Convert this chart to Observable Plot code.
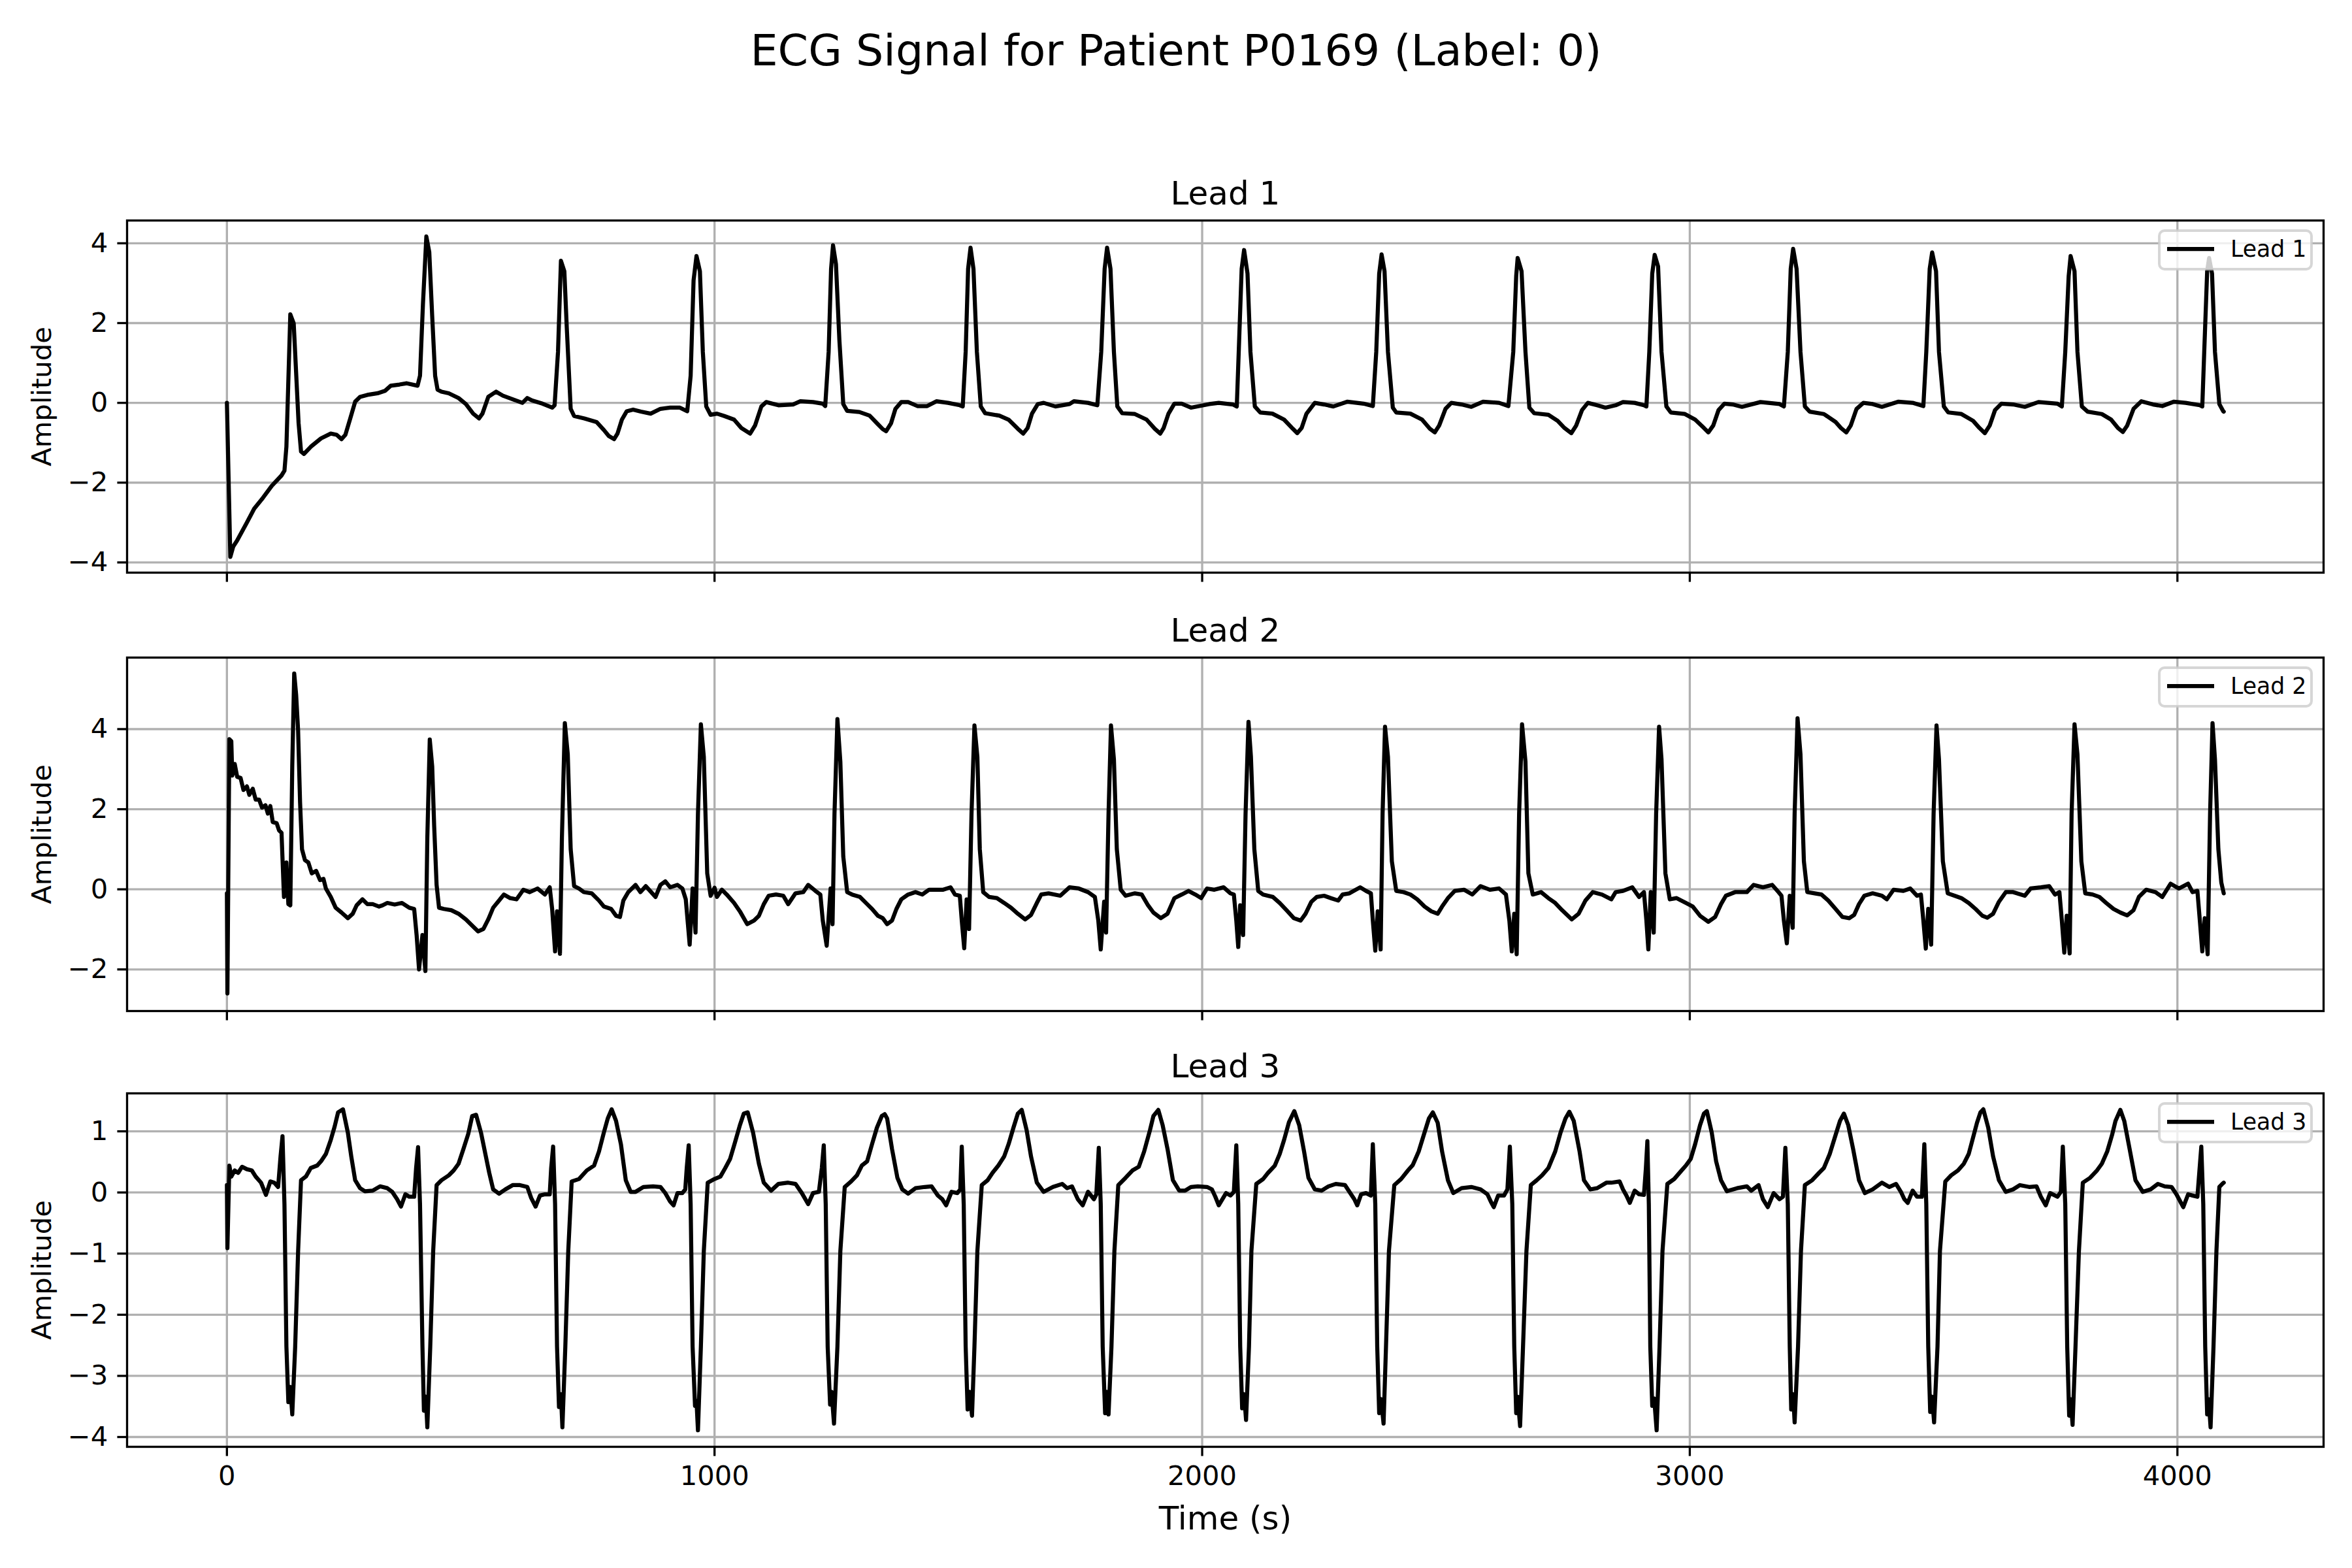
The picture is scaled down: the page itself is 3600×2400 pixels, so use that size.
<!DOCTYPE html>
<html><head><meta charset="utf-8">
<script src="https://cdn.jsdelivr.net/npm/d3@7"></script>
<script src="https://cdn.jsdelivr.net/npm/@observablehq/plot@0.6"></script>
<style>
html,body{margin:0;padding:0;background:#fff;}
#fig{position:relative;width:3600px;height:2400px;background:#fff;overflow:hidden;font-family:"DejaVu Sans",sans-serif;}
#fig svg{position:absolute;left:0;}
</style></head>
<body><div id="fig"></div>
<script>
// ---------- data ----------
const figTitle = "ECG Signal for Patient P0169 (Label: 0)";
const leadNames = ["Lead 1", "Lead 2", "Lead 3"];
const xLabel = "Time (s)";
const yLabel = "Amplitude";
const xTicks = [0, 1000, 2000, 3000, 4000];
const lead1Ticks = [-4, -2, 0, 2, 4];
const lead2Ticks = [-2, 0, 2, 4];
const lead3Ticks = [-4, -3, -2, -1, 0, 1];
const xDomain = [-204.75, 4299.75];
const lead1Domain = [-4.256, 4.571];
const lead2Domain = [-3.039, 5.786];
const lead3Domain = [-4.160, 1.621];

const lead1 = [[0,0],[7,-3.86],[13,-3.60],[21,-3.45],[41,-3.0],[56,-2.65],[72,-2.41],[92,-2.08],[112,-1.82],[118,-1.70],[122,-1.10],[130,2.22],[137,1.99],[147,-0.51],[152,-1.22],[158,-1.28],[172,-1.10],[193,-0.89],[213,-0.77],[225,-0.80],[235,-0.91],[243,-0.80],[253,-0.39],[263,0.03],[273,0.15],[288,0.20],[309,0.24],[324,0.30],[336,0.43],[354,0.46],[369,0.49],[391,0.43],[396,0.68],[402,2.47],[409,4.17],[415,3.78],[421,2.17],[427,0.68],[432,0.33],[440,0.28],[455,0.24],[475,0.12],[490,-0.03],[505,-0.27],[517,-0.39],[524,-0.27],[536,0.15],[552,0.28],[566,0.18],[586,0.09],[606,0],[616,0.12],[626,0.06],[647,-0.02],[667,-0.12],[672,-0.06],[679,1.28],[685,3.56],[692,3.30],[697,1.88],[705,-0.15],[712,-0.33],[733,-0.39],[758,-0.48],[773,-0.68],[783,-0.83],[794,-0.91],[801,-0.77],[810,-0.42],[820,-0.21],[833,-0.17],[849,-0.22],[869,-0.27],[889,-0.15],[909,-0.12],[929,-0.12],[944,-0.21],[951,0.68],[957,3.07],[963,3.68],[970,3.30],[976,1.28],[983,-0.09],[992,-0.30],[1005,-0.27],[1020,-0.33],[1040,-0.42],[1055,-0.63],[1073,-0.77],[1083,-0.57],[1096,-0.09],[1106,0.02],[1131,-0.06],[1161,-0.04],[1176,0.04],[1202,0.02],[1222,-0.02],[1227,-0.08],[1234,1.28],[1239,3.36],[1243,3.95],[1249,3.48],[1256,1.58],[1264,-0.03],[1272,-0.20],[1297,-0.23],[1318,-0.32],[1333,-0.51],[1345,-0.66],[1352,-0.71],[1362,-0.51],[1371,-0.15],[1383,0.02],[1397,0.02],[1416,-0.08],[1436,-0.08],[1455,0.04],[1479,0],[1503,-0.06],[1509,-0.09],[1515,1.28],[1520,3.36],[1525,3.89],[1531,3.36],[1538,1.28],[1546,-0.09],[1555,-0.26],[1584,-0.32],[1603,-0.42],[1622,-0.65],[1633,-0.77],[1642,-0.63],[1651,-0.27],[1663,-0.03],[1675,0],[1699,-0.09],[1728,-0.03],[1737,0.04],[1766,0],[1785,-0.06],[1793,1.28],[1800,3.36],[1805,3.89],[1812,3.36],[1819,1.28],[1826,-0.09],[1836,-0.26],[1862,-0.28],[1886,-0.42],[1903,-0.65],[1914,-0.77],[1921,-0.63],[1931,-0.27],[1943,-0.02],[1958,-0.02],[1977,-0.12],[2015,-0.03],[2034,0],[2063,-0.04],[2071,-0.09],[2075,1.28],[2081,3.36],[2086,3.83],[2093,3.24],[2099,1.28],[2108,-0.09],[2119,-0.24],[2144,-0.27],[2168,-0.42],[2186,-0.65],[2195,-0.76],[2204,-0.63],[2214,-0.27],[2231,0],[2250,-0.04],[2269,-0.09],[2298,0.03],[2331,-0.02],[2350,-0.08],[2357,1.28],[2363,3.24],[2368,3.72],[2374,3.30],[2381,1.28],[2391,-0.12],[2398,-0.24],[2427,-0.27],[2451,-0.42],[2467,-0.65],[2477,-0.74],[2486,-0.57],[2499,-0.15],[2511,0],[2532,-0.04],[2552,-0.10],[2576,0.03],[2609,0],[2628,-0.08],[2638,1.28],[2644,3.18],[2647,3.63],[2655,3.30],[2663,1.28],[2671,-0.12],[2681,-0.26],[2710,-0.30],[2729,-0.45],[2743,-0.63],[2757,-0.76],[2767,-0.57],[2779,-0.18],[2791,0],[2810,-0.06],[2827,-0.12],[2848,-0.06],[2863,0.02],[2887,0],[2906,-0.06],[2911,-0.09],[2917,1.28],[2923,3.24],[2928,3.71],[2935,3.42],[2942,1.28],[2952,-0.09],[2961,-0.24],[2990,-0.28],[3011,-0.42],[3029,-0.63],[3038,-0.74],[3048,-0.57],[3059,-0.18],[3071,-0.02],[3088,-0.04],[3107,-0.10],[3145,0.02],[3184,-0.03],[3193,-0.09],[3201,1.28],[3207,3.36],[3212,3.86],[3219,3.36],[3227,1.28],[3236,-0.09],[3246,-0.22],[3275,-0.28],[3299,-0.48],[3310,-0.63],[3321,-0.74],[3330,-0.57],[3342,-0.15],[3356,0],[3375,-0.03],[3394,-0.10],[3428,0.03],[3457,0],[3479,-0.08],[3485,1.28],[3492,3.36],[3497,3.77],[3505,3.30],[3511,1.28],[3521,-0.09],[3530,-0.24],[3557,-0.28],[3581,-0.45],[3594,-0.63],[3605,-0.76],[3615,-0.57],[3626,-0.18],[3639,-0.02],[3663,-0.04],[3687,-0.10],[3715,0.02],[3754,-0.02],[3763,-0.09],[3770,1.28],[3777,3.18],[3781,3.68],[3789,3.30],[3795,1.28],[3804,-0.09],[3816,-0.22],[3845,-0.28],[3864,-0.42],[3878,-0.63],[3888,-0.73],[3897,-0.57],[3910,-0.15],[3926,0.04],[3950,-0.04],[3969,-0.08],[3993,0.03],[4017,0],[4046,-0.06],[4051,-0.09],[4055,1.28],[4061,3.30],[4065,3.63],[4071,3.24],[4077,1.28],[4086,-0.03],[4094,-0.21],[4095,-0.22]];

const lead2 = [[0,-0.10],[1,-2.60],[5,3.75],[9,3.70],[11,2.84],[16,3.13],[21,2.81],[28,2.78],[34,2.48],[41,2.57],[46,2.36],[53,2.51],[59,2.24],[66,2.24],[72,2.04],[79,2.10],[84,1.89],[89,2.08],[94,1.68],[102,1.65],[107,1.47],[112,1.41],[117,-0.19],[122,0.67],[126,-0.37],[130,-0.40],[134,3.07],[138,5.39],[142,4.85],[146,3.96],[150,2.18],[154,1.00],[160,0.73],[167,0.67],[174,0.40],[183,0.46],[191,0.23],[198,0.26],[203,0.02],[213,-0.19],[223,-0.46],[235,-0.58],[248,-0.72],[258,-0.61],[266,-0.40],[278,-0.25],[288,-0.37],[299,-0.37],[312,-0.43],[319,-0.40],[329,-0.34],[344,-0.38],[359,-0.34],[374,-0.46],[384,-0.49],[389,-1.14],[394,-2.00],[401,-1.14],[407,-2.04],[411,1.29],[416,3.74],[421,3.07],[425,1.59],[430,0.11],[435,-0.46],[445,-0.49],[460,-0.52],[475,-0.61],[490,-0.75],[505,-0.93],[515,-1.05],[526,-0.99],[536,-0.75],[546,-0.46],[556,-0.31],[568,-0.13],[581,-0.22],[594,-0.25],[608,-0.01],[621,-0.07],[637,0.02],[652,-0.13],[662,0.05],[667,-0.49],[673,-1.55],[677,-0.55],[683,-1.61],[687,1.29],[693,4.15],[699,3.37],[705,1.00],[712,0.08],[722,0.02],[732,-0.07],[748,-0.10],[763,-0.28],[773,-0.43],[788,-0.49],[798,-0.66],[806,-0.69],[813,-0.28],[823,-0.07],[838,0.11],[848,-0.07],[859,0.08],[879,-0.19],[889,0.11],[899,0.20],[909,0.05],[924,0.11],[934,0.02],[941,-0.25],[949,-1.38],[955,0.02],[961,-1.08],[966,1.89],[972,4.12],[978,3.31],[985,0.40],[992,-0.16],[1000,0.04],[1005,-0.19],[1015,-0.01],[1025,-0.13],[1040,-0.34],[1052,-0.55],[1067,-0.87],[1081,-0.78],[1091,-0.66],[1101,-0.37],[1111,-0.16],[1126,-0.13],[1141,-0.16],[1151,-0.37],[1166,-0.10],[1182,-0.07],[1192,0.11],[1207,-0.04],[1217,-0.13],[1222,-0.78],[1230,-1.41],[1238,0.02],[1242,-0.87],[1246,1.89],[1252,4.25],[1258,3.19],[1264,0.82],[1272,-0.07],[1282,-0.13],[1298,-0.19],[1313,-0.37],[1323,-0.49],[1335,-0.66],[1345,-0.72],[1354,-0.87],[1364,-0.78],[1373,-0.49],[1383,-0.25],[1397,-0.13],[1412,-0.07],[1426,-0.13],[1440,-0.01],[1455,-0.01],[1469,-0.01],[1484,0.05],[1493,-0.13],[1503,-0.16],[1507,-0.78],[1512,-1.47],[1517,-0.25],[1522,-0.99],[1527,1.89],[1533,4.09],[1539,3.31],[1544,1.00],[1551,-0.07],[1563,-0.19],[1579,-0.22],[1594,-0.34],[1608,-0.46],[1622,-0.61],[1637,-0.75],[1649,-0.64],[1661,-0.34],[1670,-0.13],[1685,-0.10],[1709,-0.16],[1728,0.05],[1747,0.02],[1766,-0.07],[1780,-0.19],[1787,-0.78],[1792,-1.50],[1799,-0.31],[1803,-1.08],[1808,1.89],[1813,4.09],[1819,3.25],[1825,1.00],[1833,-0.01],[1843,-0.16],[1862,-0.10],[1876,-0.13],[1889,-0.40],[1900,-0.58],[1915,-0.72],[1929,-0.61],[1943,-0.22],[1958,-0.13],[1972,-0.04],[1986,-0.13],[1998,-0.22],[2010,0.02],[2025,-0.01],[2044,0.05],[2058,-0.10],[2065,-0.13],[2070,-0.78],[2074,-1.44],[2078,-0.40],[2084,-1.14],[2089,1.89],[2095,4.18],[2100,3.31],[2107,1.00],[2115,-0.04],[2125,-0.13],[2145,-0.19],[2159,-0.34],[2173,-0.52],[2188,-0.72],[2202,-0.78],[2212,-0.61],[2224,-0.31],[2235,-0.19],[2250,-0.16],[2264,-0.22],[2279,-0.28],[2288,-0.13],[2302,-0.10],[2324,0.05],[2336,-0.04],[2346,-0.10],[2350,-0.78],[2355,-1.53],[2360,-0.55],[2366,-1.50],[2370,1.89],[2375,4.06],[2381,3.31],[2389,0.70],[2398,-0.04],[2413,-0.07],[2427,-0.13],[2441,-0.25],[2456,-0.43],[2470,-0.55],[2483,-0.61],[2492,-0.43],[2504,-0.22],[2518,-0.04],[2537,-0.01],[2554,-0.13],[2571,0.08],[2590,-0.01],[2609,0.02],[2623,-0.13],[2630,-0.78],[2635,-1.55],[2640,-0.61],[2645,-1.62],[2650,1.89],[2656,4.12],[2663,3.19],[2669,0.40],[2678,-0.13],[2695,-0.07],[2710,-0.22],[2724,-0.34],[2738,-0.52],[2758,-0.75],[2772,-0.61],[2786,-0.28],[2801,-0.07],[2820,-0.13],[2839,-0.25],[2848,-0.07],[2863,-0.04],[2882,0.05],[2896,-0.19],[2906,-0.07],[2911,-0.78],[2915,-1.50],[2920,-0.07],[2926,-1.08],[2931,1.89],[2937,4.06],[2942,3.25],[2950,0.40],[2959,-0.25],[2973,-0.22],[2992,-0.34],[3006,-0.43],[3021,-0.66],[3038,-0.81],[3052,-0.69],[3064,-0.37],[3074,-0.16],[3093,-0.07],[3117,-0.07],[3131,0.11],[3150,0.05],[3169,0.11],[3182,-0.07],[3188,-0.16],[3193,-0.78],[3199,-1.35],[3205,-0.16],[3211,-0.96],[3215,1.89],[3221,4.27],[3227,3.37],[3234,0.70],[3241,-0.07],[3256,-0.10],[3270,-0.13],[3284,-0.28],[3299,-0.49],[3313,-0.69],[3327,-0.72],[3337,-0.64],[3347,-0.37],[3358,-0.16],[3375,-0.10],[3394,-0.16],[3404,-0.25],[3418,-0.01],[3438,-0.04],[3452,0.02],[3466,-0.16],[3474,-0.13],[3479,-0.78],[3484,-1.48],[3489,-0.49],[3495,-1.38],[3500,1.89],[3506,4.09],[3511,3.25],[3519,0.70],[3529,-0.10],[3543,-0.16],[3557,-0.22],[3572,-0.34],[3586,-0.49],[3600,-0.66],[3610,-0.71],[3622,-0.61],[3634,-0.31],[3648,-0.07],[3663,-0.07],[3687,-0.16],[3699,0.02],[3720,0.05],[3737,0.08],[3749,-0.13],[3758,-0.07],[3763,-0.78],[3768,-1.58],[3773,-0.66],[3779,-1.60],[3783,1.89],[3789,4.12],[3795,3.37],[3803,0.70],[3811,-0.10],[3826,-0.13],[3840,-0.19],[3854,-0.34],[3869,-0.49],[3883,-0.58],[3897,-0.65],[3910,-0.52],[3921,-0.19],[3936,-0.01],[3955,-0.07],[3969,-0.19],[3986,0.14],[4003,0.02],[4022,0.14],[4031,-0.07],[4041,-0.04],[4046,-0.78],[4051,-1.55],[4056,-0.72],[4062,-1.62],[4067,1.89],[4072,4.15],[4077,3.25],[4084,1.00],[4090,0.17],[4095,-0.10]];

const lead3 = [[0,0.12],[1,-0.91],[5,0.44],[9,0.26],[16,0.36],[23,0.32],[31,0.42],[41,0.38],[51,0.36],[59,0.26],[70,0.16],[80,-0.04],[89,0.18],[97,0.16],[105,0.09],[110,0.59],[114,0.92],[118,-0.19],[122,-2.52],[126,-3.43],[130,-3.18],[134,-3.63],[140,-2.52],[146,-0.96],[152,0.20],[162,0.26],[172,0.40],[185,0.44],[193,0.51],[203,0.63],[213,0.86],[221,1.08],[228,1.31],[238,1.36],[248,0.98],[255,0.59],[263,0.20],[273,0.07],[283,0.02],[299,0.03],[314,0.10],[329,0.07],[339,0.01],[349,-0.11],[357,-0.23],[366,-0.03],[374,-0.07],[384,-0.07],[388,0.40],[392,0.74],[396,-0.19],[401,-2.52],[404,-3.57],[408,-3.34],[411,-3.84],[417,-2.52],[423,-0.96],[430,0.12],[440,0.20],[455,0.28],[465,0.36],[475,0.47],[485,0.71],[495,0.96],[503,1.25],[511,1.27],[521,0.98],[531,0.59],[538,0.32],[546,0.05],[558,-0.02],[571,0.05],[586,0.12],[601,0.12],[616,0.09],[624,-0.09],[633,-0.23],[642,-0.05],[652,-0.03],[662,-0.03],[665,0.40],[669,0.75],[673,-0.19],[677,-2.52],[681,-3.51],[685,-3.30],[688,-3.84],[694,-2.52],[700,-0.96],[707,0.18],[722,0.22],[738,0.36],[753,0.44],[763,0.67],[773,0.98],[781,1.21],[789,1.36],[798,1.17],[808,0.79],[818,0.20],[828,0.01],[838,0.01],[854,0.09],[874,0.10],[889,0.09],[899,-0.01],[909,-0.15],[916,-0.21],[924,-0.01],[934,-0.01],[940,0.05],[943,0.40],[947,0.77],[951,-0.19],[955,-2.52],[960,-3.49],[963,-3.41],[966,-3.89],[972,-2.52],[978,-0.96],[986,0.16],[1000,0.22],[1012,0.26],[1022,0.40],[1032,0.55],[1042,0.82],[1052,1.10],[1060,1.29],[1068,1.31],[1079,0.98],[1091,0.47],[1101,0.16],[1116,0.03],[1131,0.14],[1151,0.16],[1166,0.14],[1179,-0.01],[1192,-0.19],[1202,-0.01],[1214,0.01],[1220,0.40],[1224,0.77],[1228,-0.19],[1232,-2.52],[1237,-3.47],[1240,-3.26],[1245,-3.78],[1252,-2.52],[1258,-0.96],[1267,0.09],[1280,0.18],[1292,0.28],[1302,0.44],[1313,0.51],[1323,0.79],[1333,1.06],[1343,1.25],[1349,1.28],[1354,1.21],[1364,0.71],[1375,0.24],[1385,0.05],[1397,-0.02],[1412,0.07],[1431,0.09],[1445,0.10],[1458,-0.05],[1467,-0.11],[1475,-0.21],[1486,0.01],[1498,-0.01],[1504,0.05],[1507,0.75],[1511,-0.19],[1515,-2.52],[1519,-3.55],[1523,-3.26],[1528,-3.65],[1533,-2.52],[1539,-0.96],[1548,0.12],[1560,0.20],[1570,0.32],[1582,0.44],[1594,0.59],[1603,0.79],[1613,1.06],[1622,1.29],[1630,1.35],[1640,1.02],[1649,0.59],[1661,0.16],[1675,0.01],[1694,0.09],[1713,0.14],[1723,0.07],[1733,0.10],[1745,-0.11],[1755,-0.21],[1766,0.01],[1778,-0.11],[1783,-0.03],[1788,0.73],[1792,-0.19],[1796,-2.52],[1801,-3.61],[1804,-3.26],[1808,-3.63],[1814,-2.52],[1820,-0.96],[1828,0.12],[1843,0.24],[1857,0.36],[1870,0.42],[1881,0.67],[1893,1.02],[1900,1.25],[1910,1.35],[1919,1.10],[1929,0.71],[1940,0.20],[1953,0.03],[1965,0.03],[1977,0.09],[1991,0.10],[2010,0.09],[2020,0.05],[2027,-0.07],[2034,-0.21],[2049,-0.01],[2058,-0.05],[2065,0.01],[2070,0.77],[2074,-0.19],[2078,-2.52],[2082,-3.53],[2086,-3.30],[2090,-3.72],[2096,-2.52],[2101,-0.96],[2111,0.14],[2125,0.22],[2135,0.32],[2149,0.44],[2159,0.63],[2168,0.86],[2178,1.15],[2189,1.33],[2199,1.10],[2209,0.67],[2218,0.24],[2231,0.05],[2245,0.03],[2259,0.10],[2274,0.14],[2293,0.12],[2302,0.01],[2312,-0.11],[2318,-0.21],[2326,-0.03],[2336,-0.01],[2346,-0.05],[2350,0.79],[2355,-0.19],[2359,-2.52],[2363,-3.61],[2367,-3.38],[2372,-3.78],[2377,-2.52],[2383,-0.96],[2394,0.12],[2408,0.22],[2422,0.36],[2432,0.45],[2444,0.67],[2456,0.98],[2465,1.21],[2473,1.31],[2483,1.14],[2492,0.67],[2504,0.20],[2515,-0.01],[2532,0.07],[2552,0.09],[2571,0.05],[2585,-0.03],[2592,-0.15],[2598,-0.24],[2607,-0.05],[2619,-0.05],[2626,0.05],[2631,0.75],[2636,-0.19],[2640,-2.52],[2644,-3.61],[2647,-3.34],[2652,-3.82],[2658,-2.52],[2665,-0.96],[2674,0.12],[2686,0.20],[2697,0.28],[2710,0.40],[2724,0.67],[2735,0.98],[2745,1.21],[2753,1.32],[2762,1.17],[2774,0.67],[2783,0.20],[2796,0.05],[2810,0.07],[2829,0.16],[2839,0.16],[2856,0.18],[2863,0.05],[2870,-0.05],[2877,-0.17],[2887,0.03],[2896,-0.03],[2906,-0.04],[2910,0.40],[2913,0.84],[2916,-0.19],[2919,-2.52],[2923,-3.49],[2927,-3.37],[2932,-3.89],[2938,-2.52],[2944,-0.96],[2954,0.14],[2968,0.22],[2981,0.34],[2992,0.44],[3002,0.55],[3011,0.79],[3021,1.10],[3029,1.29],[3035,1.33],[3045,0.98],[3054,0.51],[3064,0.20],[3076,0.02],[3097,0.07],[3117,0.10],[3126,0.03],[3141,0.12],[3150,-0.11],[3160,-0.24],[3172,-0.01],[3184,-0.11],[3191,-0.07],[3196,0.73],[3201,-0.19],[3205,-2.52],[3208,-3.55],[3212,-3.30],[3215,-3.76],[3222,-2.52],[3228,-0.96],[3236,0.12],[3251,0.20],[3265,0.32],[3275,0.40],[3287,0.63],[3299,0.94],[3308,1.17],[3316,1.29],[3325,1.10],[3335,0.71],[3347,0.20],[3359,-0.01],[3375,0.05],[3394,0.16],[3409,0.09],[3423,0.14],[3433,0.01],[3440,-0.11],[3447,-0.17],[3457,0.03],[3466,-0.07],[3476,-0.07],[3481,0.79],[3485,-0.19],[3489,-2.52],[3493,-3.59],[3497,-3.34],[3501,-3.76],[3508,-2.52],[3513,-0.96],[3524,0.18],[3536,0.28],[3550,0.36],[3562,0.47],[3572,0.63],[3581,0.90],[3589,1.14],[3596,1.31],[3602,1.36],[3612,1.06],[3622,0.59],[3634,0.20],[3648,0.01],[3663,0.05],[3677,0.12],[3696,0.09],[3711,0.10],[3720,-0.07],[3730,-0.21],[3739,-0.01],[3754,-0.07],[3761,0.01],[3765,0.75],[3770,-0.19],[3774,-2.52],[3778,-3.65],[3781,-3.38],[3785,-3.80],[3791,-2.52],[3798,-0.96],[3806,0.16],[3821,0.24],[3835,0.36],[3845,0.47],[3856,0.67],[3866,0.94],[3873,1.17],[3883,1.35],[3891,1.17],[3902,0.71],[3914,0.20],[3929,0.01],[3945,0.05],[3960,0.14],[3974,0.10],[3988,0.09],[3998,-0.03],[4006,-0.15],[4012,-0.24],[4022,-0.03],[4031,-0.05],[4041,-0.07],[4049,0.75],[4053,-0.19],[4057,-2.52],[4061,-3.63],[4064,-3.38],[4068,-3.84],[4074,-2.52],[4080,-0.96],[4086,0.09],[4092,0.14],[4095,0.16]];

// ---------- layout ----------
const W = 3600, ML = 194, MR = 44;
const panels = [
  {name: leadNames[0], data: lead1, domain: lead1Domain, ticks: lead1Ticks, top: 200, mt: 137, h: 539, mb: 51, xLabels: false},
  {name: leadNames[1], data: lead2, domain: lead2Domain, ticks: lead2Ticks, top: 927, mt: 79, h: 541, mb: 50, xLabels: false},
  {name: leadNames[2], data: lead3, domain: lead3Domain, ticks: lead3Ticks, top: 1597, mt: 76, h: 541, mb: 186, xLabels: true}
];
const LW = 6.25, SW = 3.33, TICK = 14.6, FS_TICK = 41.7, FS_LAB = 50;
const fmt = d3.format("d");
const fig = document.getElementById("fig");

for (const p of panels) {
  const marks = [
    Plot.gridX(xTicks, {stroke: "#b0b0b0", strokeOpacity: 1, strokeWidth: SW}),
    Plot.gridY(p.ticks, {stroke: "#b0b0b0", strokeOpacity: 1, strokeWidth: SW}),
    Plot.line(p.data, {x: d => d[0], y: d => d[1], stroke: "black", strokeWidth: LW, clip: true}),
    Plot.frame({stroke: "black", strokeWidth: SW}),
    Plot.axisX({ticks: xTicks, tickSize: TICK, tickPadding: TICK, fontSize: FS_TICK, strokeWidth: SW, label: null,
      tickFormat: p.xLabels ? fmt : () => ""}),
    Plot.axisY({ticks: p.ticks, tickSize: TICK, tickPadding: TICK, fontSize: FS_TICK, strokeWidth: SW, label: null, tickFormat: fmt}),
    Plot.text([p.name], {text: d => d, frameAnchor: "top", dy: -25, lineAnchor: "bottom", fontSize: FS_LAB}),
    Plot.text([yLabel], {text: d => d, frameAnchor: "left", dx: -130, rotate: -90, lineAnchor: "middle", textAnchor: "middle", fontSize: FS_TICK})
  ];
  if (p.xLabels) marks.push(Plot.text([xLabel], {text: d => d, frameAnchor: "bottom", dy: 126, lineAnchor: "bottom", fontSize: FS_LAB}));
  const svg = Plot.plot({
    width: W, height: p.mt + p.h + p.mb,
    marginLeft: ML, marginRight: MR, marginTop: p.mt, marginBottom: p.mb,
    x: {domain: xDomain}, y: {domain: p.domain},
    style: {fontFamily: "DejaVu Sans", fontSize: FS_TICK + "px", background: "transparent", overflow: "visible", color: "black"},
    marks
  });
  svg.style.top = p.top + "px";
  svg.style.maxWidth = "none";
  fig.appendChild(svg);
}

// ---------- title and legends (overlay) ----------
const ns = "http://www.w3.org/2000/svg";
const ov = document.createElementNS(ns, "svg");
ov.setAttribute("width", W); ov.setAttribute("height", 2400);
ov.style.top = "0px"; ov.style.pointerEvents = "none";
ov.style.fontFamily = "DejaVu Sans";
function el(tag, attrs, text) {
  const e = document.createElementNS(ns, tag);
  for (const k in attrs) e.setAttribute(k, attrs[k]);
  if (text != null) e.textContent = text;
  ov.appendChild(e);
  return e;
}
el("text", {x: 1800, y: 100, "text-anchor": "middle", "font-size": 66.7, fill: "black"}, figTitle);
for (const p of panels) {
  const top = p.top + p.mt + 16;
  el("rect", {x: 3305, y: top, width: 233, height: 59, rx: 8, fill: "white", "fill-opacity": 0.8,
    stroke: "#cccccc", "stroke-opacity": 0.8, "stroke-width": 4});
  el("line", {x1: 3317, x2: 3389, y1: top + 28, y2: top + 28, stroke: "black", "stroke-width": LW});
  el("text", {x: 3414, y: top + 40, "font-size": 34.7, fill: "black"}, p.name);
}
fig.appendChild(ov);
</script></body></html>
